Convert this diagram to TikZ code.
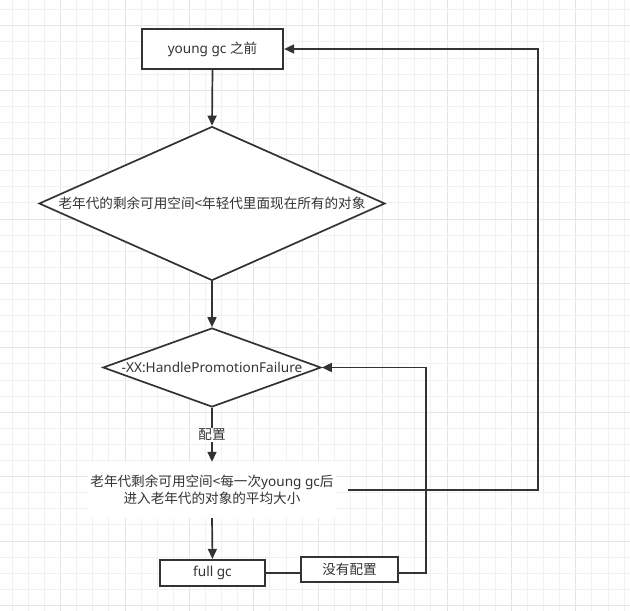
\documentclass[tikz,border=0pt]{standalone}
\usepackage{fontspec}
\setmainfont{Noto Sans}
\newfontfamily\cjk{Noto Sans CJK SC}
\usetikzlibrary{shapes.geometric,arrows.meta}
\definecolor{lncol}{HTML}{333333}
\definecolor{txcol}{HTML}{333333}
\definecolor{gmin}{RGB}{241,241,241}
\definecolor{gmaj}{RGB}{229,229,229}
\begin{document}
\begin{tikzpicture}[x=1pt,y=-1pt,
  txtfont/.style={text=txcol,font=\fontsize{13.6}{17}\selectfont},
  box/.style={draw=lncol,line width=2.2pt,fill=white,inner sep=0pt,txtfont},
  dia/.style={diamond,draw=lncol,line width=1.7pt,fill=white,inner sep=0pt,txtfont},
  arr/.style={draw=lncol,line width=1.7pt,-{Triangle[length=10pt,width=9pt]}},
  plainln/.style={draw=lncol,line width=1.7pt},
  lbl/.style={fill=white,inner sep=1pt,txtfont}
]
\useasboundingbox (0,0) rectangle (630,611);
\fill[white] (0,0) rectangle (630,611);
% grid
\foreach \k in {0,...,38}{
  \pgfmathsetmacro{\gx}{12.3+16.1*\k}
  \pgfmathtruncatemacro{\m}{mod(\k,4)}
  \ifnum\m=3 \draw[gmaj,line width=1pt] (\gx,0) -- (\gx,611);
  \else \draw[gmin,line width=1pt] (\gx,0) -- (\gx,611); \fi
}
\foreach \k in {0,...,37}{
  \pgfmathsetmacro{\gy}{9.7+16.1*\k}
  \pgfmathtruncatemacro{\m}{mod(\k,4)}
  \ifnum\m=1 \draw[gmaj,line width=1pt] (0,\gy) -- (630,\gy);
  \else \draw[gmin,line width=1pt] (0,\gy) -- (630,\gy); \fi
}
% nodes
\node[box,minimum width=141pt,minimum height=40pt] (young) at (212.5,49) {young gc {\cjk 之前}};
\node[dia,minimum width=346pt,minimum height=154pt,aspect=2.25] (d1) at (212,203.5)
  {\cjk 老年代的剩余可用空间<年轻代里面现在所有的对象};
\node[dia,minimum width=218pt,minimum height=79pt,aspect=2.76] (d2) at (212,367.5)
  {-XX:HandlePromotionFailure};
\node[fill=white,align=center,inner xsep=2pt,minimum height=56pt,txtfont] (t3) at (212,490)
  {{\cjk 老年代剩余可用空间<每一次}young gc{\cjk 后}\\{\cjk 进入老年代的对象的平均大小}};
\node[box,minimum width=105pt,minimum height=26pt] (full) at (212.5,573) {full gc};
\node[box,minimum width=97pt,minimum height=25pt] (nocfg) at (349.5,569.5) {\cjk 没有配置};
% connectors
\draw[arr] (young.south) -- (d1.north);
\draw[arr] (d1.south) -- (d2.north);
\draw[arr] (d2.south) -- node[lbl] {\cjk 配置} (t3.north);
\draw[arr] (t3.south) -- (full.north);
\draw[plainln] (full.east) -- (nocfg.west |- full.east);
\draw[arr] (nocfg.east |- full.east) -- ++(27,0) |- (d2.east);
\draw[arr] ([xshift=12.5pt]t3.east) -- ++(190,0) |- (young.east);
\end{tikzpicture}
\end{document}
